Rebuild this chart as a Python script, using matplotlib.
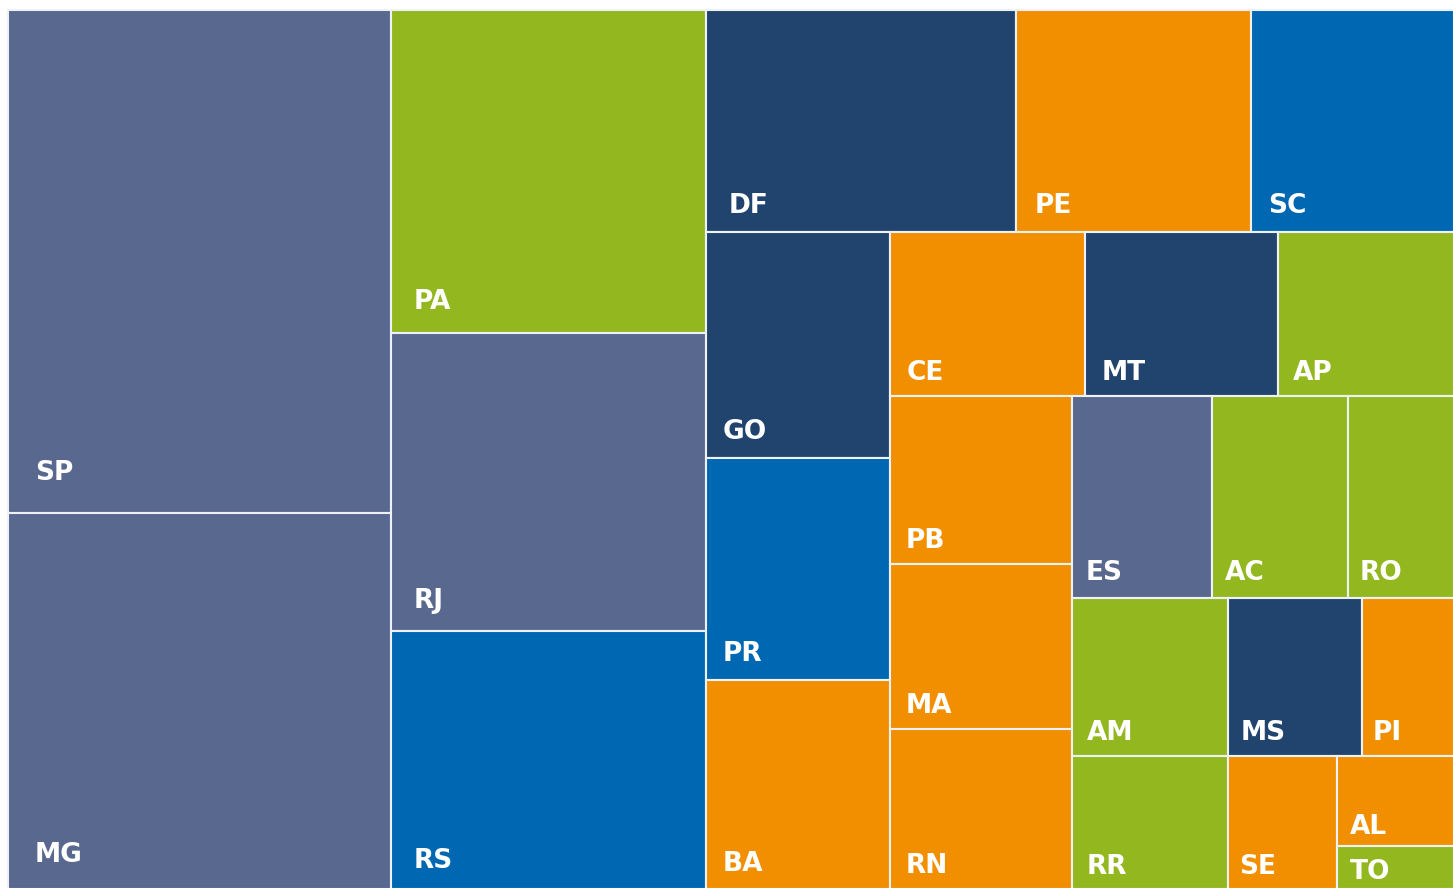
import matplotlib
matplotlib.use('Agg')
import matplotlib.pyplot as plt
from matplotlib.patches import Rectangle

# states, in layout order, with their region and size
states = ['SP', 'MG', 'PA', 'RJ', 'RS', 'DF', 'PE', 'SC', 'GO', 'PR', 'BA',
          'CE', 'MT', 'AP', 'PB', 'MA', 'RN', 'ES', 'AC', 'RO', 'AM', 'RR',
          'MS', 'PI', 'SE', 'AL', 'TO']
regions = ['Sudeste', 'Sudeste', 'Norte', 'Sudeste', 'Sul', 'Centro-Oeste',
           'Nordeste', 'Sul', 'Centro-Oeste', 'Sul', 'Nordeste', 'Nordeste',
           'Centro-Oeste', 'Norte', 'Nordeste', 'Nordeste', 'Nordeste',
           'Sudeste', 'Norte', 'Norte', 'Norte', 'Norte', 'Centro-Oeste',
           'Nordeste', 'Nordeste', 'Nordeste', 'Norte']
values = [191.8, 143.6, 101.7, 93.6, 81.3, 68.5, 51.9, 44.9, 41.6, 40.6, 38.4,
          32.0, 31.5, 28.9, 30.6, 29.9, 29.1, 28.1, 27.5, 21.4, 24.5, 20.6,
          21.2, 14.5, 14.5, 10.5, 5.0]

REGION_COLORS = {
    'Sudeste': '#58688f',
    'Norte': '#93b81f',
    'Centro-Oeste': '#21446f',
    'Nordeste': '#f18f00',
    'Sul': '#0068b3',
}

# how many cells go in each strip of the squarified layout
STRIPS = [2, 3, 3, 3, 3, 3, 3, 2, 2, 1, 1, 1]

W, H = 1453, 888
X0, Y0 = 8, 10


def layout(vals, x, y, w, h, strips):
    scale = w * h / sum(vals)
    areas = [v * scale for v in vals]
    rects = []
    i = 0
    for n in strips:
        chunk = areas[i:i + n]
        s = sum(chunk)
        if w >= h:
            # column on the left, cells top to bottom
            cw = s / h
            cy = y
            for a in chunk:
                ch = a / cw
                rects.append((x, cy, cw, ch))
                cy += ch
            x += cw
            w -= cw
        else:
            # row on top, cells left to right
            rh = s / w
            cx = x
            for a in chunk:
                rw = a / rh
                rects.append((cx, y, rw, rh))
                cx += rw
            y += rh
            h -= rh
        i += n
    return rects


# a pixel extra on the right/bottom so the outer border falls off the canvas
rects = layout(values, X0, Y0, W + 1 - X0, H + 1 - Y0, STRIPS)

fig = plt.figure(figsize=(W / 100, H / 100), dpi=100)
ax = fig.add_axes([0, 0, 1, 1])
ax.set_xlim(0, W)
ax.set_ylim(H, 0)
ax.axis('off')

for (x, y, w, h), st, reg in zip(rects, states, regions):
    ax.add_patch(Rectangle((x, y), w, h, facecolor=REGION_COLORS[reg],
                           edgecolor='#eef2f6', linewidth=1.5))
    dx = 6 + 0.055 * w
    dy = 18 + 0.05 * h
    ax.text(x + dx, y + h - dy + 10, st, color='white', fontsize=19,
            fontweight='bold', family='DejaVu Sans',
            ha='left', va='baseline')

fig.savefig('out.png', dpi=100)
